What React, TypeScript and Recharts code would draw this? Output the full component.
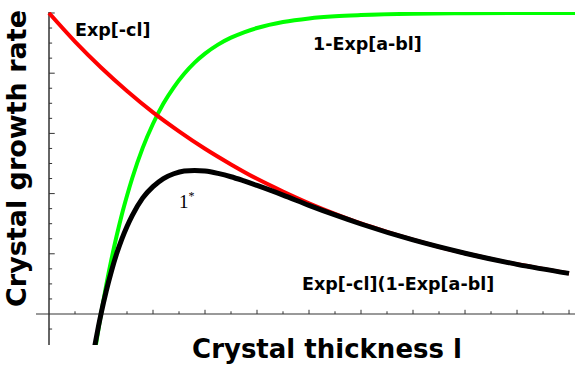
import { LineChart, Line, XAxis, YAxis, ReferenceLine } from "recharts";

// crystal thickness samples and the three curves
const redL = [0, 0.5, 1, 1.5, 2, 2.5, 3, 3.5, 4, 4.5, 5, 5.5, 6, 6.5, 7, 7.5, 8, 8.5, 9, 9.5, 10];
const redV = [1.0, 0.905, 0.819, 0.741, 0.67, 0.607, 0.549, 0.497, 0.449, 0.407, 0.368, 0.333, 0.301, 0.273, 0.247, 0.223, 0.202, 0.183, 0.165, 0.15, 0.135];

const greenL = [0.9, 0.95, 1.0, 1.1, 1.2, 1.3, 1.4, 1.5, 1.6, 1.8, 2.0, 2.2, 2.4, 2.6, 2.8, 3.0, 3.25, 3.5, 3.75, 4.0, 4.5, 5.0, 5.5, 6, 7, 8, 9, 10.12];
const greenV = [-0.105, -0.051, 0, 0.095, 0.181, 0.259, 0.33, 0.393, 0.451, 0.551, 0.632, 0.699, 0.753, 0.798, 0.835, 0.865, 0.895, 0.918, 0.936, 0.95, 0.97, 0.982, 0.989, 0.993, 0.9975, 0.999, 0.9997, 1.0];

const blackL = [0.88, 0.9, 0.95, 1.0, 1.1, 1.2, 1.3, 1.4, 1.5, 1.6, 1.8, 2.0, 2.2, 2.4, 2.6, 2.8, 3.0, 3.25, 3.5, 3.75, 4.0, 4.5, 5.0, 5.5, 6, 7, 8, 9, 10];
const blackV = [-0.107, -0.088, -0.042, 0, 0.076, 0.142, 0.2, 0.249, 0.291, 0.327, 0.385, 0.423, 0.45, 0.466, 0.475, 0.477, 0.475, 0.467, 0.456, 0.442, 0.427, 0.395, 0.361, 0.329, 0.299, 0.246, 0.202, 0.165, 0.135];

// unlabeled tick marks
const xTicks = [0.5, 1, 1.5, 2, 2.5, 3, 3.5, 4, 4.5, 5, 5.5, 6, 6.5, 7, 7.5, 8, 8.5, 9, 9.5, 10];
const yTicks = [-0.05, 0.05, 0.1, 0.15, 0.2, 0.25, 0.3, 0.35, 0.4, 0.45, 0.5, 0.55, 0.6, 0.65, 0.7, 0.75, 0.8, 0.85, 0.9, 0.95, 1.0];

const red = redL.map((l, i) => ({ l, v: redV[i] }));
const green = greenL.map((l, i) => ({ l, v: greenV[i] }));
const black = blackL.map((l, i) => ({ l, v: blackV[i] }));

const bold = { fontFamily: "'DejaVu Sans', sans-serif", fontWeight: "bold" as const };

export default function App() {
  return (
    <div style={{ position: "absolute", left: 0, top: 0, width: 575, height: 366, background: "#fff" }}>
      <LineChart width={575} height={366} margin={{ top: 12, right: 0, bottom: 21, left: 36 }}>
        <XAxis type="number" dataKey="l" domain={[-0.25, 10.115]} hide allowDataOverflow />
        <YAxis type="number" dataKey="v" domain={[-0.103, 1.0033]} hide allowDataOverflow />
        <ReferenceLine y={0} stroke="#999" strokeWidth={2} />
        <ReferenceLine x={0} stroke="#333" strokeWidth={1.5} />
        {xTicks.map((t) => (
          <ReferenceLine
            key={"x" + t}
            segment={[{ x: t, y: 0 }, { x: t, y: Number.isInteger(t) ? 0.014 : 0.009 }]}
            stroke="#333"
            strokeWidth={1}
          />
        ))}
        {yTicks.map((t) => (
          <ReferenceLine
            key={"y" + t}
            segment={[{ x: 0, y: t }, { x: Math.abs(t * 5 - Math.round(t * 5)) < 1e-6 ? 0.11 : 0.06, y: t }]}
            stroke="#333"
            strokeWidth={1}
          />
        ))}
        <Line data={green} dataKey="v" type="monotone" stroke="#00ff00" strokeWidth={4} dot={false} isAnimationActive={false} />
        <Line data={red} dataKey="v" type="monotone" stroke="#ff0000" strokeWidth={4} dot={false} isAnimationActive={false} />
        <Line data={black} dataKey="v" type="monotone" stroke="#000" strokeWidth={5} dot={false} isAnimationActive={false} />
      </LineChart>
      <svg width={575} height={366} style={{ position: "absolute", left: 0, top: 0, pointerEvents: "none" }}>
        <text x={75} y={36} fontSize={17.5} style={bold}>Exp[-cl]</text>
        <text x={313} y={50} fontSize={17.5} style={bold}>1-Exp[a-bl]</text>
        <text x={302} y={290} fontSize={17.5} style={bold}>Exp[-cl](1-Exp[a-bl]</text>
        <text x={179} y={208} fontSize={19} fontFamily="'Liberation Serif', serif">
          1<tspan dy={-8} fontSize={12}>*</tspan>
        </text>
        <text x={327} y={358} fontSize={26} textAnchor="middle" style={bold}>Crystal thickness l</text>
        <text x={26} y={158.5} fontSize={27} textAnchor="middle" transform="rotate(-90 26 158.5)" style={bold}>
          Crystal growth rate
        </text>
      </svg>
    </div>
  );
}
